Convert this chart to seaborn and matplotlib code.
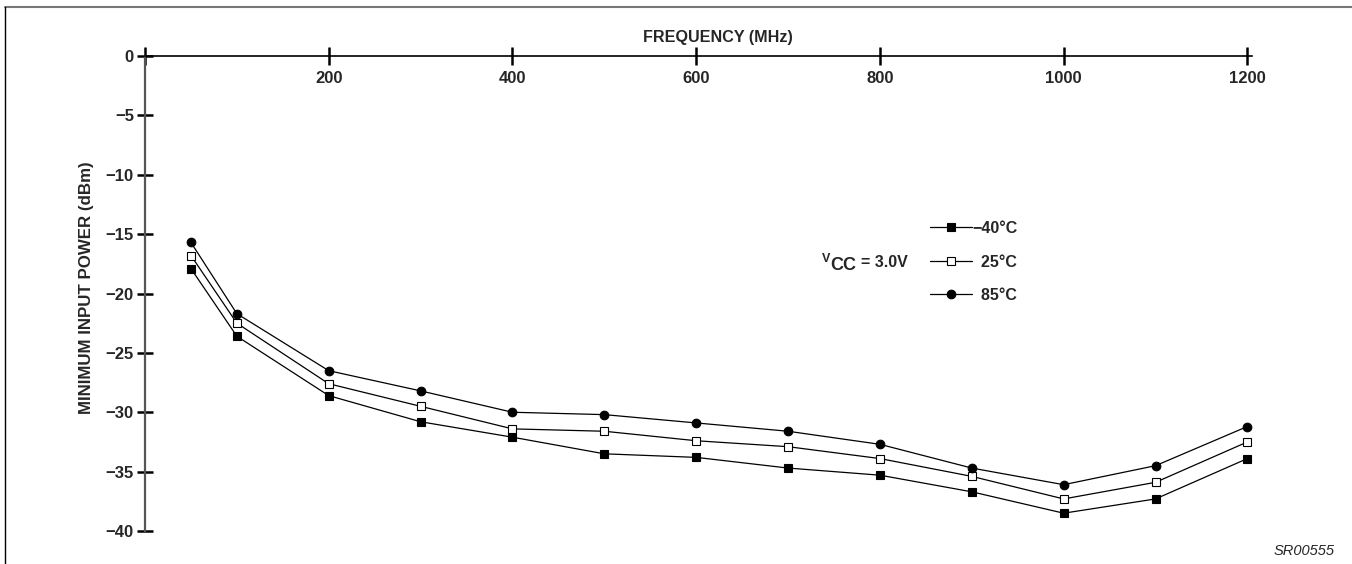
import numpy as np
import pandas as pd
import matplotlib
matplotlib.use("Agg")
import matplotlib.pyplot as plt
import seaborn as sns
from matplotlib.lines import Line2D

# frequency (MHz) and minimum input power (dBm)
freq = [50, 100, 200, 300, 400, 500, 600, 700, 800, 900, 1000, 1100, 1200]
p_m40 = [-17.9, -23.6, -28.6, -30.8, -32.1, -33.5, -33.8, -34.7, -35.3, -36.7, -38.5, -37.3, -33.9]
p_25 = [-16.8, -22.5, -27.6, -29.5, -31.4, -31.6, -32.4, -32.9, -33.9, -35.4, -37.3, -35.9, -32.5]
p_85 = [-15.7, -21.7, -26.5, -28.2, -30.0, -30.2, -30.9, -31.6, -32.7, -34.7, -36.1, -34.5, -31.2]

labels = ["\u221240\u00b0C", "  25\u00b0C", "  85\u00b0C"]
x_ticks = [0, 200, 400, 600, 800, 1000, 1200]
y_ticks = [0, -5, -10, -15, -20, -25, -30, -35, -40]

sns.set_theme(style="white")
plt.rcParams["font.family"] = ["Liberation Sans", "DejaVu Sans"]
plt.rcParams["font.weight"] = "bold"

fig = plt.figure(figsize=(13.52, 5.64), dpi=100)
ax = fig.add_axes([145 / 1352, 1 - 531 / 564, 1107 / 1352, 475 / 564])

series = [
    (p_m40, dict(marker="s", markerfacecolor="black", markersize=5.8)),
    (p_25, dict(marker="s", markerfacecolor="white", markersize=5.8)),
    (p_85, dict(marker="o", markerfacecolor="black", markersize=6.2)),
]
for (vals, mk), lab in zip(series, labels):
    df = pd.DataFrame({"freq": freq, "power": vals})
    sns.lineplot(data=df, x="freq", y="power", ax=ax, color="black", linewidth=0.9,
                 markeredgecolor="black", markeredgewidth=0.8, label=lab, **mk)

ax.set_xlim(0, 1205)
ax.set_ylim(-40, 0)

# x axis drawn along y = 0 at the top
ax.spines["bottom"].set_position(("data", 0))
ax.spines["right"].set_visible(False)
ax.spines["top"].set_visible(False)
ax.spines["bottom"].set_color("black")
ax.spines["bottom"].set_linewidth(1.2)
ax.spines["left"].set_color("#555555")
ax.spines["left"].set_linewidth(1.6)

ax.set_xticks(x_ticks)
ax.set_xticklabels([""] + [str(t) for t in x_ticks[1:]])
ax.set_yticks(y_ticks)
ax.set_yticklabels([str(t).replace("-", "\u2212") for t in y_ticks])
ax.tick_params(axis="x", direction="inout", length=13, width=1.8, color="black",
               labelsize=12, pad=4, bottom=True)
ax.tick_params(axis="y", direction="inout", length=12, width=1.8, color="black",
               labelsize=12, pad=2, left=True)
for t in ax.get_xticklabels() + ax.get_yticklabels():
    t.set_fontweight("bold")

ax.set_xlabel("FREQUENCY (MHz)", fontsize=11.6, fontweight="bold")
ax.xaxis.set_label_coords((718 - 145) / 1107, (531 - 30) / 475)
ax.set_ylabel("MINIMUM INPUT POWER (dBm)", fontsize=12.2, fontweight="bold")
ax.yaxis.set_label_coords((94 - 145) / 1107, (531 - 288) / 475)

leg = ax.legend(loc="upper left", bbox_to_anchor=((930 - 145) / 1107, (531 - 221) / 475),
                frameon=False, handlelength=2.6, handletextpad=0.05, labelspacing=1.16,
                prop={"weight": "bold", "size": 11.5}, borderaxespad=0, borderpad=0)

# Vcc annotation
fig.text(822 / 1352, 1 - 259 / 564, "V", fontsize=9, fontweight="bold", va="center", ha="left")
fig.text(830 / 1352, 1 - 266 / 564, "CC", fontsize=13, fontweight="bold", va="center", ha="left")
fig.text(861 / 1352, 1 - 262 / 564, "= 3.0V", fontsize=11.5, fontweight="bold", va="center", ha="left")

fig.text(1335 / 1352, 1 - 551 / 564, "SR00555", fontsize=10.5, fontstyle="italic",
         fontweight="normal", ha="right", va="center")

# page frame lines
fig.add_artist(Line2D([5 / 1352, 1], [1 - 7 / 564, 1 - 7 / 564], color="#777777", linewidth=1.5))
fig.add_artist(Line2D([5 / 1352, 5 / 1352], [0, 1 - 7 / 564], color="black", linewidth=1.0))

fig.savefig("out.png", dpi=100)
